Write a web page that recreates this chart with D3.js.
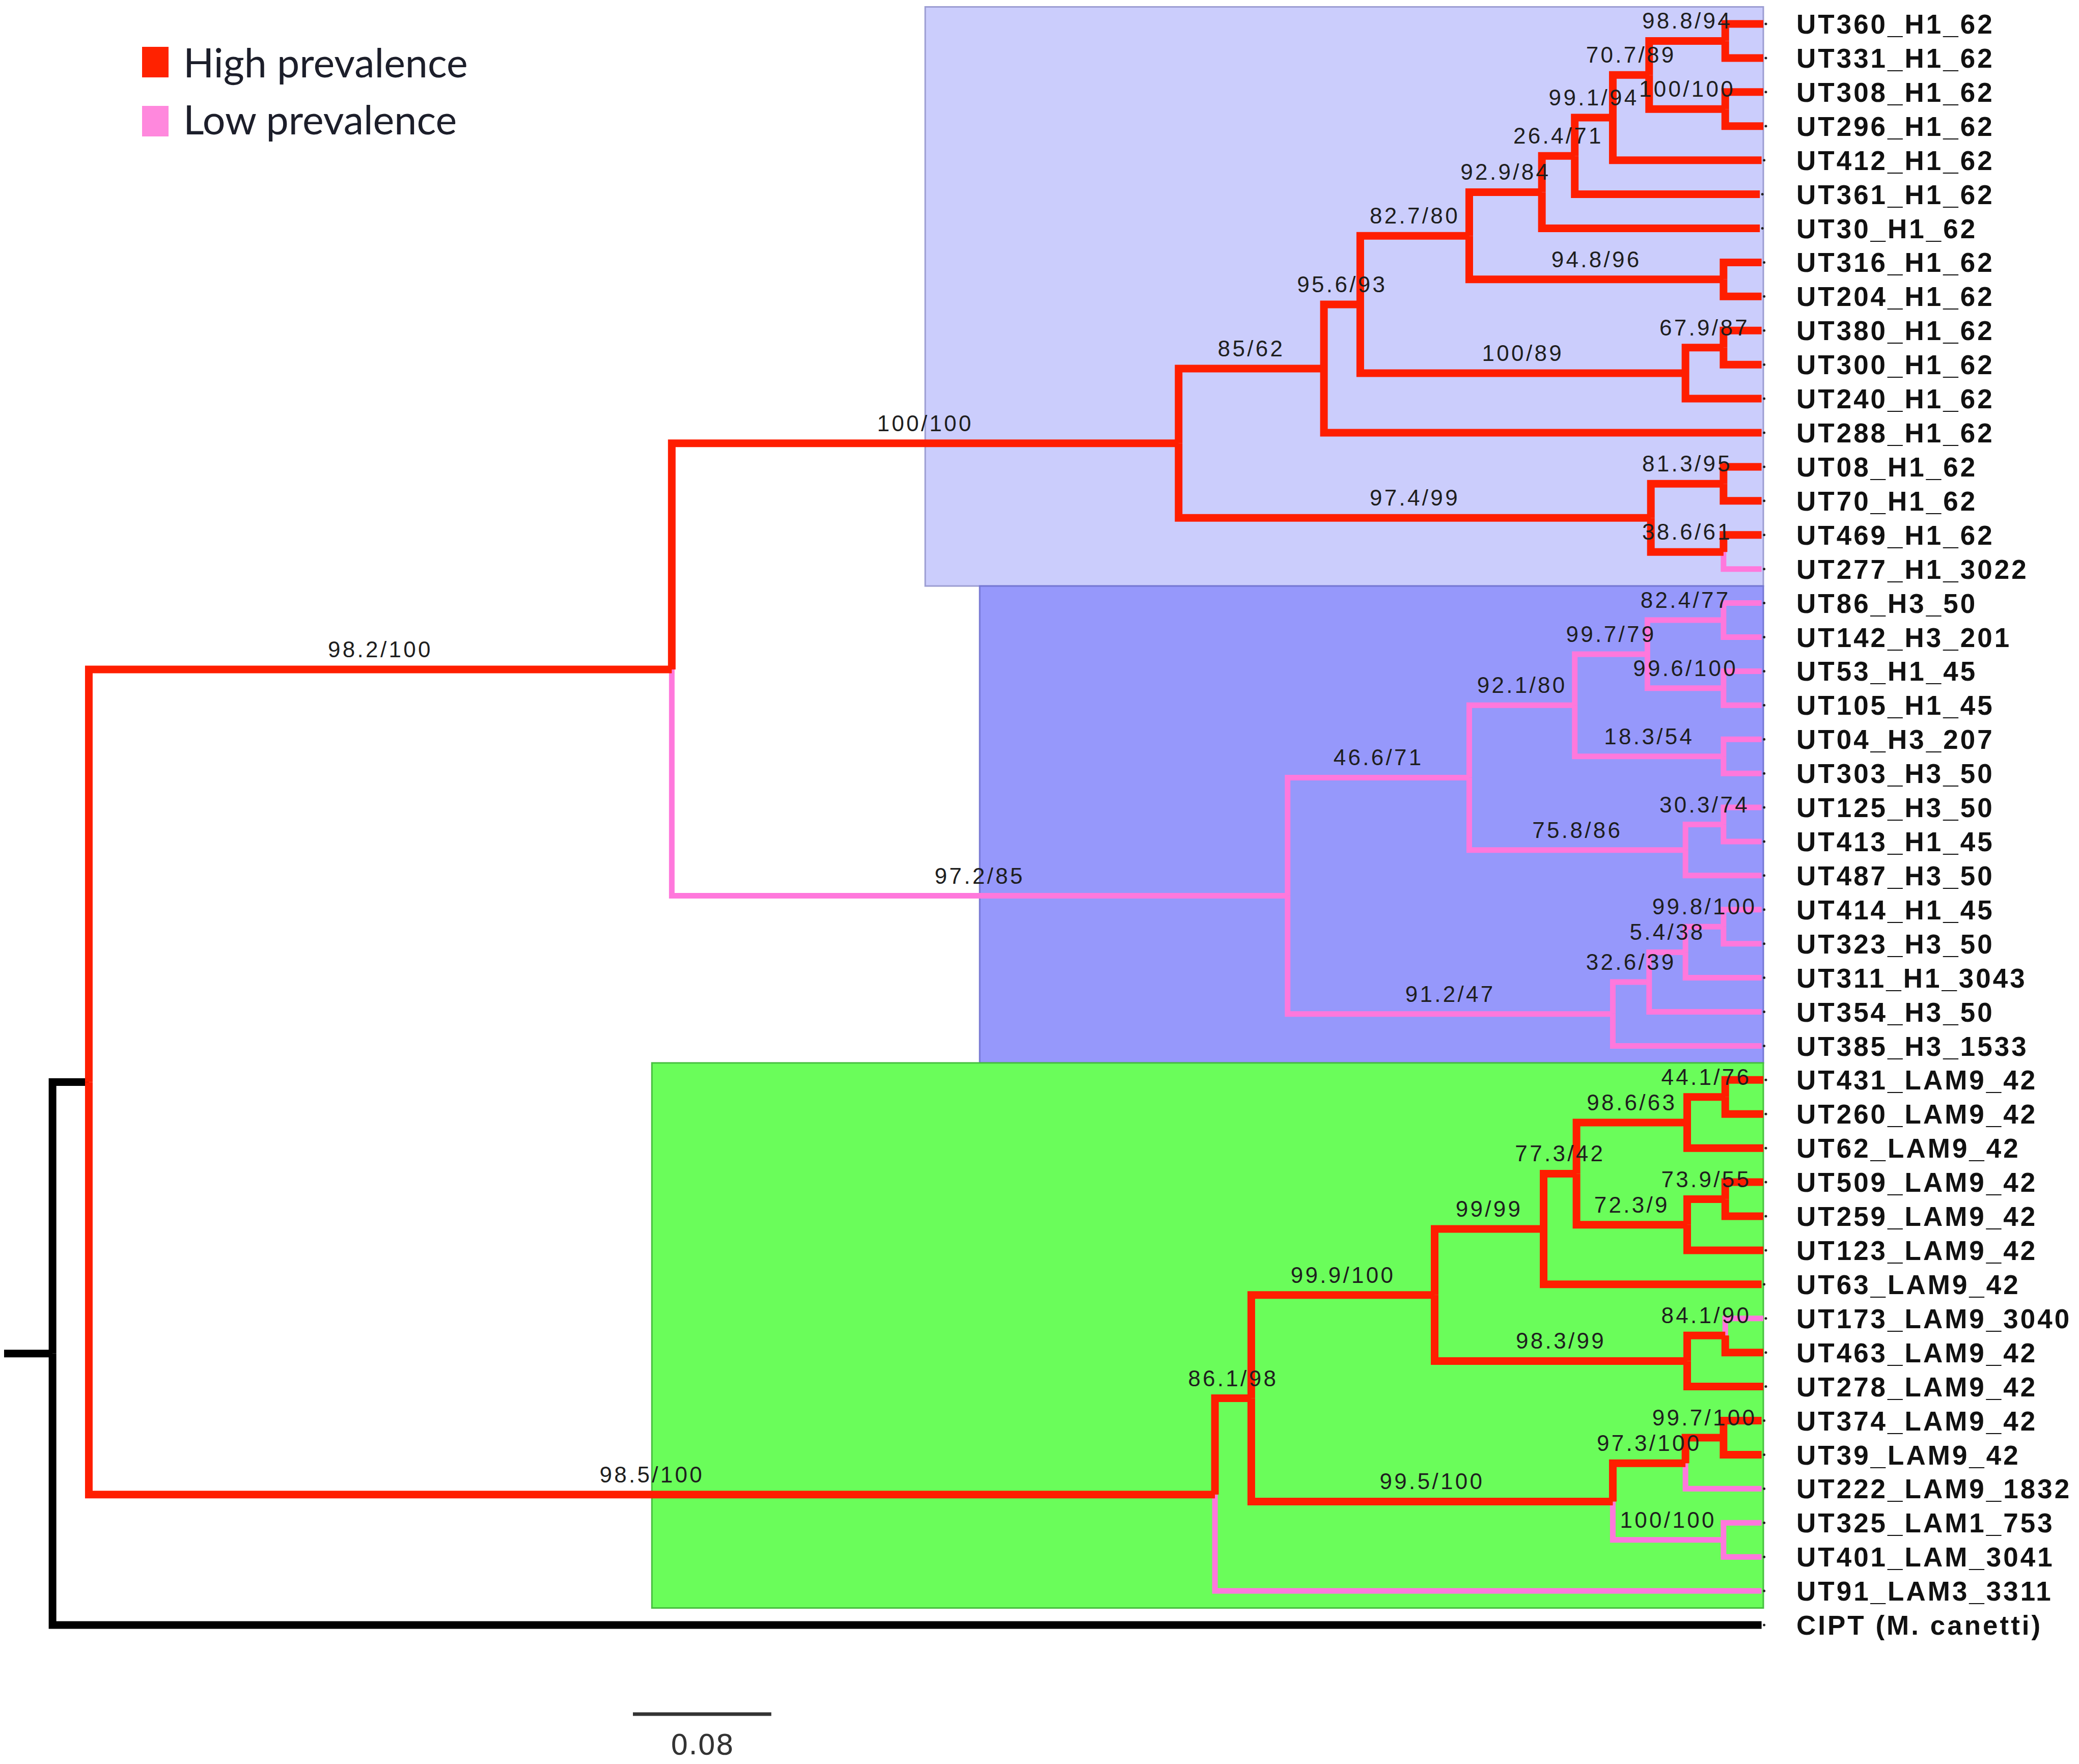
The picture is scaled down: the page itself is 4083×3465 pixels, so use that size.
<!DOCTYPE html>
<html>
<head>
<meta charset="utf-8">
<script src="https://cdn.jsdelivr.net/npm/d3@7/dist/d3.min.js"></script>
<style>
  body { margin: 0; background: #fff; }
</style>
</head>
<body>
<div id="chart"></div>
<script>
const width = 4083;
const height = 3465;

// topology, branch lengths (subst./site) and support values "aLRT/bootstrap"
const newick = `
 ((
  (
   (((((((((UT360_H1_62:0.022,UT331_H1_62:0.022)'98.8/94':0.044,
           (UT308_H1_62:0.022,UT296_H1_62:0.022)'100/100':0.044)'70.7/89':0.021,
          UT412_H1_62:0.086)'99.1/94':0.022,
         UT361_H1_62:0.107)'26.4/71':0.019,
        UT30_H1_62:0.126)'92.9/84':0.042,
       (UT316_H1_62:0.022,UT204_H1_62:0.022)'94.8/96':0.147)'82.7/80':0.063,
      ((UT380_H1_62:0.022,UT300_H1_62:0.022)'67.9/87':0.022,UT240_H1_62:0.044)'100/89':0.188)'95.6/93':0.021,
     UT288_H1_62:0.253)'85/62':0.084,
    ((UT08_H1_62:0.022,UT70_H1_62:0.022)'81.3/95':0.042,
     (UT469_H1_62:0.022,UT277_H1_3022:0.022)'38.6/61':0.042)'97.4/99':0.273
   )'100/100':0.293,
   (
    ((((UT86_H3_50:0.022,UT142_H3_201:0.022)'82.4/77':0.044,
       (UT53_H1_45:0.022,UT105_H1_45:0.022)'99.6/100':0.044)'99.7/79':0.042,
      (UT04_H3_207:0.022,UT303_H3_50:0.022)'18.3/54':0.086)'92.1/80':0.061,
     ((UT125_H3_50:0.022,UT413_H1_45:0.022)'30.3/74':0.022,UT487_H3_50:0.044)'75.8/86':0.125)'46.6/71':0.105,
    ((((UT414_H1_45:0.022,UT323_H3_50:0.022)'99.8/100':0.022,UT311_H1_3043:0.044)'5.4/38':0.021,
      UT354_H3_50:0.065)'32.6/39':0.021,
     UT385_H3_1533:0.086)'91.2/47':0.188
   )'97.2/85':0.356
  )'98.2/100':0.337,
  (
   (
    (
     ((((UT431_LAM9_42:0.022,UT260_LAM9_42:0.022)'44.1/76':0.022,UT62_LAM9_42:0.044)'98.6/63':0.064,
       ((UT509_LAM9_42:0.022,UT259_LAM9_42:0.022)'73.9/55':0.022,UT123_LAM9_42:0.044)'72.3/9':0.064)'77.3/42':0.019,
      UT63_LAM9_42:0.126)'99/99':0.063,
     ((UT173_LAM9_3040:0.022,UT463_LAM9_42:0.022)'84.1/90':0.022,UT278_LAM9_42:0.044)'98.3/99':0.146
    )'99.9/100':0.106,
    (((UT374_LAM9_42:0.022,UT39_LAM9_42:0.022)'99.7/100':0.022,UT222_LAM9_1832:0.044)'97.3/100':0.042,
     (UT325_LAM1_753:0.022,UT401_LAM_3041:0.022)'100/100':0.064
    )'99.5/100':0.209
   )'86.1/98':0.021,
   UT91_LAM3_3311:0.316
  )'98.5/100':0.651
 ):0.021,
 'CIPT (M. canetti)':0.988
);`;

const rootStub = 0.028;

// tips with low prevalence
const lowTips = ["UT277_H1_3022", "UT173_LAM9_3040", "UT222_LAM9_1832", "UT91_LAM3_3311"];
// clades (given by first/last tip) whose branches are all low prevalence
const lowClades = [
  ["UT86_H3_50", "UT385_H3_1533"],
  ["UT325_LAM1_753", "UT401_LAM_3041"]
];
// highlighted clades
const cladeBoxes = [
  ["UT360_H1_62", "UT277_H1_3022"],
  ["UT86_H3_50", "UT385_H3_1533"],
  ["UT431_LAM9_42", "UT91_LAM3_3311"]
];
const outgroup = "CIPT (M. canetti)";
const legendLabels = ["High prevalence", "Low prevalence"];
const scaleBarValue = 0.08;

// ---- styles
const colors = { high: "#ff1e00", low: "#ff78dc", out: "#000000" };
const strokes = { high: 15, low: 11, out: 15 };
const boxFill = ["#cbcdfc", "#9698fb", "#6afd5a"];
const boxStroke = ["#9c9dd2", "#7577d4", "#47bf40"];

function parseNewick(str) {
    // drop whitespace that is not inside quotes
    let s = "";
    let q = false;
    for (const c of str) {
        if (c === "'") q = !q;
        if (!q && /\s/.test(c)) continue;
        s += c;
    }
    let i = 0;
    function readNode() {
        const n = { children: [] };
        if (s[i] === "(") {
            i++;
            n.children.push(readNode());
            while (s[i] === ",") { i++; n.children.push(readNode()); }
            i++;
        }
        if (s[i] === "'") {
            const j = s.indexOf("'", i + 1);
            n.name = s.slice(i + 1, j);
            i = j + 1;
        } else {
            let j = i;
            while (j < s.length && !",():;".includes(s[j])) j++;
            n.name = s.slice(i, j);
            i = j;
        }
        if (s[i] === ":") {
            i++;
            let j = i;
            while (j < s.length && !",();".includes(s[j])) j++;
            n.length = +s.slice(i, j);
            i = j;
        }
        if (!n.children.length) delete n.children;
        return n;
    }
    return readNode();
}

const root = d3.hierarchy(parseNewick(newick));
root.eachBefore(d => d.dist = d.parent ? d.parent.dist + (d.data.length || 0) : 0);

const leaves = root.leaves();
const leafByName = {};
leaves.forEach(d => leafByName[d.data.name] = d);

const maxDist = d3.max(leaves, d => d.dist);
const x = d3.scaleLinear().domain([-rootStub, maxDist]).range([8, 3463]);
const y = d3.scaleLinear().domain([0, leaves.length - 1]).range([47, 3192]);
const step = y(1) - y(0);

leaves.forEach((d, i) => d.py = y(i));
root.eachAfter(d => {
    if (d.children) d.py = (d.children[0].py + d.children[d.children.length - 1].py) / 2;
    d.px = x(d.dist);
});

function mrca(a, b) {
    const anc = new Set(leafByName[a].ancestors());
    return leafByName[b].ancestors().find(n => anc.has(n));
}

// branch states: outgroup and ingroup stem are uncoloured
root.each(d => d.state = "high");
lowClades.forEach(([a, b]) => mrca(a, b).each(d => d.state = "low"));
lowTips.forEach(t => leafByName[t].state = "low");
root.state = "out";
root.children.forEach(d => d.state = "out");
leafByName[outgroup].state = "out";

const svg = d3.select("#chart")
    .append("svg")
    .attr("width", width)
    .attr("height", height)
    .style("background", "#fff");

// clade highlight boxes
cladeBoxes.forEach(([a, b], i) => {
    const n = mrca(a, b);
    const x0 = (n.parent.px + n.px) / 2;
    const y0 = leafByName[a].py - step / 2;
    const y1 = leafByName[b].py + step / 2;
    svg.append("rect")
        .attr("x", x0)
        .attr("y", y0)
        .attr("width", x(maxDist) - x0)
        .attr("height", y1 - y0)
        .attr("fill", boxFill[i])
        .attr("stroke", boxStroke[i])
        .attr("stroke-width", 3);
});

// branches (low drawn first, high on top)
const branches = root.descendants().slice(1)
    .sort((a, b) => (b.state === "low") - (a.state === "low"));

svg.append("path")
    .attr("d", `M${x(-rootStub)},${root.py}H${root.px}`)
    .attr("fill", "none")
    .attr("stroke", colors.out)
    .attr("stroke-width", strokes.out);

svg.selectAll(".branch")
    .data(branches)
    .enter().append("path")
    .attr("class", "branch")
    .attr("d", d => `M${d.parent.px},${d.parent.py}V${d.py}H${d.px}`)
    .attr("fill", "none")
    .attr("stroke", d => colors[d.state])
    .attr("stroke-width", d => strokes[d.state])
    .attr("stroke-linejoin", "miter")
    .attr("stroke-linecap", "butt");

// tip markers
svg.selectAll(".tipdot")
    .data(leaves)
    .enter().append("circle")
    .attr("cx", d => d.px + 5)
    .attr("cy", d => d.py)
    .attr("r", 2.5)
    .attr("fill", "#222");

// support labels
svg.selectAll(".support")
    .data(root.descendants().filter(d => d.children && d.parent && d.data.name))
    .enter().append("text")
    .attr("x", d => (d.parent.px + d.px) / 2)
    .attr("y", d => d.py - 24)
    .attr("text-anchor", "middle")
    .style("font-family", "'Liberation Sans', Arial, sans-serif")
    .style("font-size", "44px")
    .style("letter-spacing", "4.3px")
    .style("fill", "#1e1e1e")
    .text(d => d.data.name);

// tip labels
svg.selectAll(".tiplabel")
    .data(leaves)
    .enter().append("text")
    .attr("x", 3528)
    .attr("y", d => d.py)
    .attr("dy", "0.36em")
    .style("font-family", "'Liberation Sans', Arial, sans-serif")
    .style("font-weight", "bold")
    .style("font-size", "53px")
    .style("letter-spacing", "4px")
    .style("fill", "#111")
    .text(d => d.data.name);

// legend
const legend = svg.append("g");
legendLabels.forEach((lab, i) => {
    legend.append("rect")
        .attr("x", 279)
        .attr("y", 92 + i * 116)
        .attr("width", 52)
        .attr("height", 60)
        .attr("fill", i === 0 ? "#ff2200" : "#ff88dd");
    legend.append("text")
        .attr("x", 360)
        .attr("y", 152 + i * 112)
        .style("font-family", "Lato, 'Open Sans', sans-serif")
        .style("font-size", "79px")
        .style("fill", "#1c1e2a")
        .text(lab);
});

// scale bar
const sbX = 1243;
const sbLen = x(scaleBarValue) - x(0);
svg.append("line")
    .attr("x1", sbX)
    .attr("x2", sbX + sbLen)
    .attr("y1", 3367)
    .attr("y2", 3367)
    .attr("stroke", "#333")
    .attr("stroke-width", 7);
svg.append("text")
    .attr("x", sbX + sbLen / 2)
    .attr("y", 3446)
    .attr("text-anchor", "middle")
    .style("font-family", "'DejaVu Sans', sans-serif")
    .style("font-size", "56px")
    .style("fill", "#333")
    .text(scaleBarValue);
</script>
</body>
</html>
